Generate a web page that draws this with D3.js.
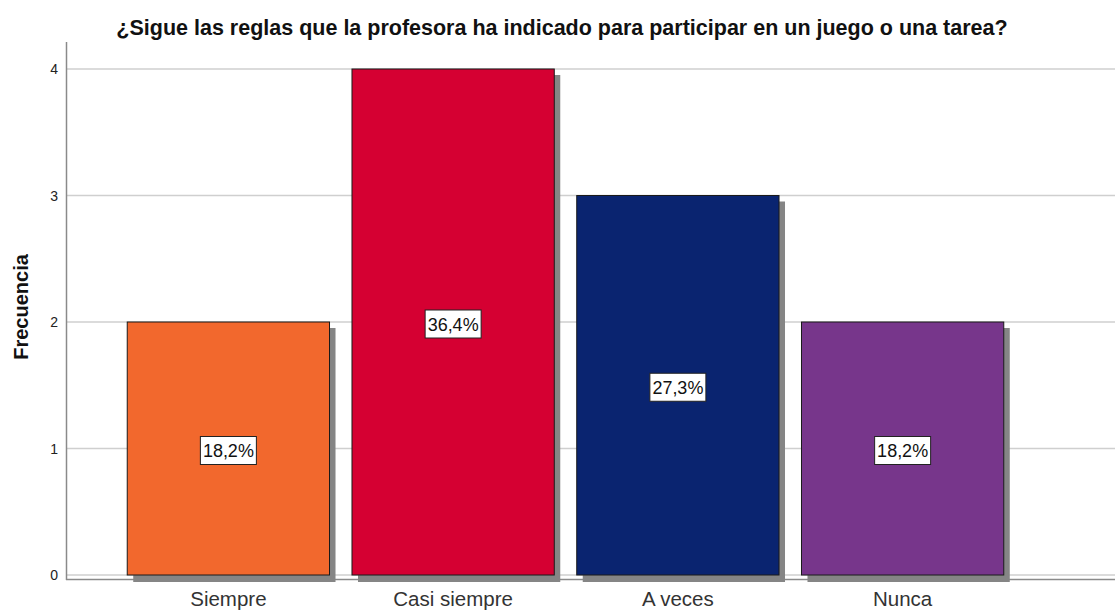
<!DOCTYPE html>
<html>
<head>
<meta charset="utf-8">
<script src="https://cdn.jsdelivr.net/npm/d3@7"></script>
<style>
  body { margin: 0; background: #fff; }
  svg { display: block; font-family: "Liberation Sans", Arial, sans-serif; }
</style>
</head>
<body>
<svg id="chart" width="1115" height="612"></svg>
<script>
// data
const categories = ['Siempre', 'Casi siempre', 'A veces', 'Nunca'];
const counts = [2, 4, 3, 2];
const percents = ['18,2%', '36,4%', '27,3%', '18,2%'];
const colors = ['#f2682d', '#d50032', '#0a2470', '#77368b'];
const yTicks = [0, 1, 2, 3, 4];

const svg = d3.select('#chart');

const x = d3.scaleBand()
    .domain(categories)
    .range([116, 1015])
    .paddingInner(0.1)
    .paddingOuter(0.05);

const y = d3.scaleLinear()
    .domain([0, 4])
    .range([575, 69]);

// gridlines
svg.append('g')
    .selectAll('line')
    .data(yTicks)
    .enter()
    .append('line')
    .attr('x1', 66)
    .attr('x2', 1115)
    .attr('y1', d => y(d))
    .attr('y2', d => y(d))
    .attr('stroke', '#cfcfcf')
    .attr('stroke-width', 1.5);

// x axis line (a bit below zero, like the original)
svg.append('line')
    .attr('x1', 66).attr('x2', 1115)
    .attr('y1', 579.5).attr('y2', 579.5)
    .attr('stroke', '#8a8a8a')
    .attr('stroke-width', 1.5);

// y axis line
svg.append('line')
    .attr('x1', 66.5).attr('x2', 66.5)
    .attr('y1', 42).attr('y2', 580)
    .attr('stroke', '#8a8a8a')
    .attr('stroke-width', 1.5);

// y tick labels
svg.append('g')
    .selectAll('text')
    .data(yTicks)
    .enter()
    .append('text')
    .attr('x', 58)
    .attr('y', d => y(d) + 5)
    .attr('text-anchor', 'end')
    .attr('font-size', 14)
    .attr('fill', '#222')
    .text(d => d);

const data = categories.map((c, i) => ({ cat: c, n: counts[i], pct: percents[i], color: colors[i] }));

// shadows
svg.append('g')
    .selectAll('rect')
    .data(data)
    .enter()
    .append('rect')
    .attr('x', d => x(d.cat) + 6)
    .attr('y', d => y(d.n) + 6)
    .attr('width', x.bandwidth())
    .attr('height', d => y(0) - y(d.n) + 1)
    .attr('fill', '#858585');

// bars
svg.append('g')
    .selectAll('rect')
    .data(data)
    .enter()
    .append('rect')
    .attr('x', d => x(d.cat))
    .attr('y', d => y(d.n))
    .attr('width', x.bandwidth())
    .attr('height', d => y(0) - y(d.n))
    .attr('fill', d => d.color)
    .attr('stroke', '#1a1a1a')
    .attr('stroke-width', 1);

// percent labels
const lab = svg.append('g')
    .selectAll('g')
    .data(data)
    .enter()
    .append('g')
    .attr('transform', d => `translate(${x(d.cat) + x.bandwidth() / 2},${y(d.n / 2) + 2})`);

lab.append('rect')
    .attr('x', -28)
    .attr('y', -14)
    .attr('width', 56)
    .attr('height', 28)
    .attr('fill', '#fff')
    .attr('stroke', '#222')
    .attr('stroke-width', 1);

lab.append('text')
    .attr('text-anchor', 'middle')
    .attr('y', 6.5)
    .attr('font-size', 18)
    .attr('textLength', 51)
    .attr('lengthAdjust', 'spacingAndGlyphs')
    .attr('fill', '#111')
    .text(d => d.pct);

// x labels
svg.append('g')
    .selectAll('text')
    .data(categories)
    .enter()
    .append('text')
    .attr('x', d => x(d) + x.bandwidth() / 2)
    .attr('y', 606)
    .attr('text-anchor', 'middle')
    .attr('font-size', 20.5)
    .attr('fill', '#333')
    .text(d => d);

// title
svg.append('text')
    .attr('x', 562)
    .attr('y', 35)
    .attr('text-anchor', 'middle')
    .attr('font-size', 21.5)
    .attr('font-weight', 'bold')
    .attr('fill', '#111')
    .text('¿Sigue las reglas que la profesora ha indicado para participar en un juego o una tarea?');

// y title
svg.append('text')
    .attr('transform', 'translate(28,307) rotate(-90)')
    .attr('text-anchor', 'middle')
    .attr('font-size', 20)
    .attr('font-weight', 'bold')
    .attr('fill', '#111')
    .text('Frecuencia');
</script>
</body>
</html>
